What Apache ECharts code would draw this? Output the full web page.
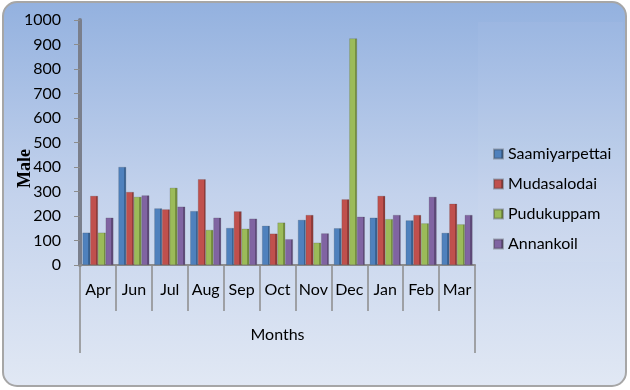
<!DOCTYPE html>
<html>
<head>
<meta charset="utf-8">
<script src="https://cdn.jsdelivr.net/npm/echarts@6/dist/echarts.min.js"></script>
<style>
  html, body { margin: 0; padding: 0; background: #fff; }
  #main { width: 630px; height: 390px; }
</style>
</head>
<body>
<div id="main"></div>
<script>
const months = ['Apr', 'Jun', 'Jul', 'Aug', 'Sep', 'Oct', 'Nov', 'Dec', 'Jan', 'Feb', 'Mar'];
const saamiyarpettai = [132, 400, 231, 220, 151, 160, 184, 150, 193, 182, 131];
const mudasalodai = [282, 298, 227, 350, 219, 128, 204, 268, 282, 204, 250];
const pudukuppam = [132, 278, 315, 143, 148, 173, 91, 925, 187, 170, 166];
const annankoil = [193, 284, 238, 193, 189, 105, 129, 197, 204, 278, 204];
const yTicks = { min: 0, max: 1000, interval: 100 };

const font = 'Lato, "Open Sans", sans-serif';

// fake 3D: darker strip on the right side of each bar
function bar3d(base, dark) {
    return {
        type: 'linear', x: 0, y: 0, x2: 1, y2: 0,
        colorStops: [
            { offset: 0, color: base },
            { offset: 0.72, color: base },
            { offset: 0.72, color: dark },
            { offset: 1, color: dark }
        ]
    };
}

function makeSeries(name, data, base, dark) {
    return {
        name: name,
        type: 'bar',
        data: data,
        barGap: '0%',
        barCategoryGap: '14%',
        itemStyle: { color: bar3d(base, dark), borderColor: 'rgba(60,60,60,0.35)', borderWidth: 0.5 }
    };
}

let myChart = echarts.init(document.getElementById('main'));

myChart.setOption({
    animation: false,
    textStyle: { fontFamily: font },
    graphic: [
        {
            type: 'rect',
            z: -10,
            shape: { x: 3, y: 2, width: 623, height: 384, r: 14 },
            style: {
                fill: {
                    type: 'linear', x: 0, y: 0, x2: 0, y2: 1,
                    colorStops: [
                        { offset: 0, color: '#93b1df' },
                        { offset: 0.5, color: '#c3d2ec' },
                        { offset: 1, color: '#e1e8f4' }
                    ]
                },
                stroke: '#a6a6a6',
                lineWidth: 2
            }
        },
        {
            type: 'rect',
            z: -9,
            shape: { x: 478, y: 22, width: 145, height: 240 },
            style: { fill: 'rgba(255,255,255,0.04)' }
        }
    ],
    legend: {
        orient: 'vertical',
        left: 488,
        top: 141,
        itemWidth: 9,
        itemHeight: 9,
        itemGap: 14,
        icon: 'rect',
        textStyle: { fontSize: 16, color: '#000', fontFamily: font },
        data: ['Saamiyarpettai', 'Mudasalodai', 'Pudukuppam', 'Annankoil']
    },
    grid: { left: 80, right: 155, top: 20, bottom: 125, outerBoundsMode: 'none' },
    xAxis: [
        {
            type: 'category',
            data: months,
            axisLine: { lineStyle: { color: '#8c8c8c', width: 2 } },
            axisTick: { show: true, interval: 0, length: 46, lineStyle: { color: '#8c8c8c', width: 1.5 } },
            axisLabel: { interval: 0, color: '#000', fontSize: 16, margin: 17, fontFamily: font }
        },
        {
            type: 'category',
            data: ['Months'],
            position: 'bottom',
            axisLine: { show: false },
            axisTick: { show: true, length: 88, lineStyle: { color: '#8c8c8c', width: 1.5 } },
            axisLabel: { color: '#000', fontSize: 16, margin: 62, fontFamily: font }
        }
    ],
    yAxis: {
        type: 'value',
        min: yTicks.min,
        max: yTicks.max,
        interval: yTicks.interval,
        name: 'Male',
        nameLocation: 'middle',
        nameRotate: 90,
        nameGap: 46,
        nameMoveOverlap: false,
        nameTextStyle: {
            fontFamily: '"Liberation Serif", "DejaVu Serif", serif', fontWeight: 'bold', fontSize: 18, color: '#000',
            padding: [0, 52, 0, 0]
        },
        axisLine: { show: true, lineStyle: { color: '#7a7f8c', width: 4 } },
        axisTick: { show: true, length: 6, lineStyle: { color: '#8c8c8c' } },
        axisLabel: { color: '#000', fontSize: 16, margin: 19, fontFamily: font, formatter: function (v) { return String(v); } },
        splitLine: { show: false }
    },
    series: [
        makeSeries('Saamiyarpettai', saamiyarpettai, '#4f81bd', '#3a6394'),
        makeSeries('Mudasalodai', mudasalodai, '#c0504d', '#923b39'),
        makeSeries('Pudukuppam', pudukuppam, '#9bbb59', '#76903f'),
        makeSeries('Annankoil', annankoil, '#8064a2', '#5f4a7a')
    ]
});

window.addEventListener('resize', function () {
    myChart.resize();
});
</script>
</body>
</html>
